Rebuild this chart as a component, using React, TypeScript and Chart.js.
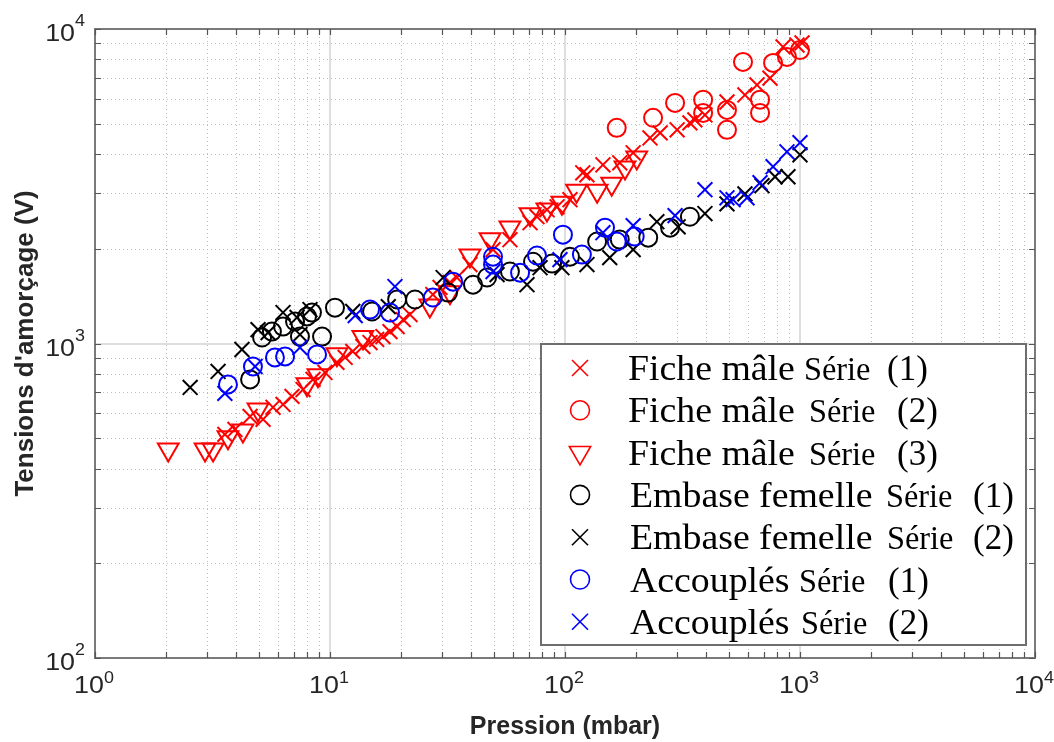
import React, { useEffect, useRef } from 'react';
import { Chart, registerables } from 'chart.js';

Chart.register(...registerables);

// ---------- axes ----------
const X_MIN = 1;
const X_MAX = 10000;
const Y_MIN = 100;
const Y_MAX = 10000;
const xDecades = [1, 10, 100, 1000, 10000];
const xTickExponents = ['0', '1', '2', '3', '4'];
const yDecades = [100, 1000, 10000];
const yTickExponents = ['2', '3', '4'];
const xTitle = 'Pression (mbar)';
const yTitle = "Tensions d'amorçage (V)";

// ---------- data ----------
// Fiche mâle Série (1)
const ficheMale1X = [3.57, 3.94, 4.57, 5.19, 5.72, 6.31, 6.89, 7.68, 8.47, 9.52, 10.7, 11.6, 12.5, 13.8, 14.8, 15.8, 16.8, 18.0, 19.3, 20.5, 21.9, 27.4, 29.4, 32.4, 34.7, 39.4, 49.4, 58.3, 71, 76, 83.8, 92.5, 105, 119, 124, 145, 171, 195, 230, 254, 300, 340, 357, 394, 489, 583, 656, 745, 847, 971, 1020];
const ficheMale1Y = [514, 533, 586, 574, 627, 640, 679, 714, 769, 809, 871, 903, 944, 978, 1007, 1030, 1052, 1091, 1132, 1191, 1236, 1431, 1507, 1563, 1621, 1782, 1988, 2138, 2421, 2530, 2663, 2720, 2865, 3490, 3440, 3700, 3755, 4040, 4505, 4675, 4780, 5030, 5140, 5330, 5860, 6170, 6640, 6980, 8770, 8890, 9030];
// Fiche mâle Série (2)
const ficheMale2X = [166, 237, 294, 387, 387, 489, 489, 572, 676, 676, 768, 880, 1000];
const ficheMale2Y = [4850, 5220, 5820, 5960, 5410, 5530, 4780, 7860, 5960, 5410, 7800, 8150, 8570];
// Fiche mâle Série (3)
const ficheMale3X = [2.05, 2.94, 3.18, 3.68, 4.26, 4.94, 7.98, 8.89, 10.7, 13.8, 26.6, 32.4, 39.4, 48, 58.3, 71, 83.8, 97, 112, 137, 158, 180, 202];
const ficheMale3Y = [460, 460, 460, 503, 529, 617, 742, 792, 925, 1048, 1320, 1455, 1905, 2145, 2340, 2575, 2665, 2805, 3060, 3060, 3220, 3630, 3900];
// Embase femelle Série (1)
const embase1X = [4.57, 5.14, 5.66, 6.31, 7.1, 7.98, 8.38, 7.45, 9.25, 10.5, 15.1, 19.3, 23, 31.8, 40.6, 46.6, 58.3, 73.1, 88.1, 105, 137, 171, 226, 280, 340];
const embase1Y = [769, 1045, 1091, 1132, 1175, 1219, 1254, 1052, 1052, 1300, 1264, 1380, 1380, 1452, 1538, 1621, 1694, 1820, 1795, 1888, 2110, 2140, 2170, 2335, 2530];
// Embase femelle Série (2)
const embase2X = [2.54, 3.34, 4.22, 4.94, 5.45, 6.31, 7.24, 8.22, 7.45, 12.5, 17.7, 30.3, 51.4, 68.9, 78.3, 97, 124, 155, 195, 246, 303, 394, 489, 583, 689, 783, 889, 1000];
const embase2Y = [725, 815, 957, 1107, 1083, 1254, 1210, 1282, 1068, 1264, 1310, 1621, 1656, 1538, 1742, 1742, 1782, 1875, 1988, 2440, 2350, 2590, 2780, 2990, 3175, 3390, 3390, 3980];
// Accouplés Série (1)
const accouples1X = [3.68, 4.70, 5.83, 6.44, 8.81, 14.8, 18.0, 27.4, 33.4, 49.4, 49.4, 64.4, 76, 98, 118, 148, 166, 198];
const accouples1Y = [741, 845, 903, 910, 923, 1282, 1254, 1400, 1573, 1888, 1782, 1680, 1905, 2218, 1917, 2335, 2110, 2188];
// Accouplés Série (2)
const accouples2X = [3.57, 4.80, 7.45, 12.8, 18.9, 49.4, 95.2, 145, 195, 294, 394, 489, 519, 595, 676, 768, 880, 1000];
const accouples2Y = [694, 845, 971, 1227, 1517, 1694, 1848, 2250, 2370, 2550, 3083, 2905, 2865, 2905, 3245, 3650, 4070, 4350];

const seriesName = ['Fiche mâle', 'Fiche mâle', 'Fiche mâle', 'Embase femelle', 'Embase femelle', 'Accouplés', 'Accouplés'];
const seriesWord = ['Série', 'Série', 'Série', 'Série', 'Série', 'Série', 'Série'];
const seriesNum = ['(1)', '(2)', '(3)', '(1)', '(2)', '(1)', '(2)'];
const seriesX = [ficheMale1X, ficheMale2X, ficheMale3X, embase1X, embase2X, accouples1X, accouples2X];
const seriesY = [ficheMale1Y, ficheMale2Y, ficheMale3Y, embase1Y, embase2Y, accouples1Y, accouples2Y];

// ---------- styles ----------
const seriesColor = ['#ff0000', '#ff0000', '#ff0000', '#000000', '#000000', '#0000ff', '#0000ff'];
const seriesMarker = ['crossRot', 'circle', 'triangle', 'circle', 'crossRot', 'circle', 'crossRot'];
const markerRadius: Record<string, number> = { crossRot: 10.5, circle: 9, triangle: 12 };
const legendMarkerSize: Record<string, number> = { crossRot: 8, circle: 9.5, triangle: 12.3 };

const W = 1054;
const H = 742;
const AREA = { left: 95, right: 1035, top: 29, bottom: 658 };
const LEGEND = { left: 541, top: 344, right: 1026, bottom: 645, rowY0: 368, rowStep: 42.3, markerX: 580 };
const legendNameX = [628, 628, 628, 630, 630, 630, 630];
const legendWordX = [804, 809, 809, 886, 887, 799, 801];
const legendNumX = [887, 897, 897, 973, 973, 888, 888];

const TEXT = '#262626';
const SANS = "'Liberation Sans', Arial, Helvetica, sans-serif";
const SERIF = "'Liberation Serif', 'Times New Roman', serif";

function drawMarker(ctx: CanvasRenderingContext2D, style: string, x: number, y: number, s: number) {
  ctx.beginPath();
  if (style === 'circle') {
    ctx.arc(x, y, s, 0, Math.PI * 2);
  } else if (style === 'crossRot') {
    ctx.moveTo(x - s, y - s);
    ctx.lineTo(x + s, y + s);
    ctx.moveTo(x + s, y - s);
    ctx.lineTo(x - s, y + s);
  } else {
    ctx.moveTo(x, y + s);
    ctx.lineTo(x - 0.866 * s, y - 0.5 * s);
    ctx.lineTo(x + 0.866 * s, y - 0.5 * s);
    ctx.closePath();
  }
  ctx.stroke();
}

function stretchedText(ctx: CanvasRenderingContext2D, text: string, x: number, y: number, sx: number) {
  ctx.save();
  ctx.translate(x, y);
  ctx.scale(sx, 1);
  ctx.fillText(text, 0, 0);
  ctx.restore();
}

const matlabPlugin = {
  id: 'matlabAxes',
  beforeDatasetsDraw(chart: any) {
    const { ctx, chartArea: a, scales } = chart;
    const xs = scales.x;
    const ys = scales.y;
    const xMinor: number[] = [];
    const yMinor: number[] = [];
    for (let d = X_MIN; d < X_MAX; d *= 10) for (let k = 2; k <= 9; k++) xMinor.push(k * d);
    for (let d = Y_MIN; d < Y_MAX; d *= 10) for (let k = 2; k <= 9; k++) yMinor.push(k * d);
    ctx.save();
    ctx.fillStyle = '#ffffff';
    ctx.fillRect(a.left, a.top, a.right - a.left, a.bottom - a.top);
    // minor dotted grid
    ctx.strokeStyle = '#bdbdbd';
    ctx.lineWidth = 1;
    ctx.setLineDash([1, 3]);
    ctx.beginPath();
    xMinor.forEach((v) => {
      const p = Math.round(xs.getPixelForValue(v)) + 0.5;
      ctx.moveTo(p, a.top);
      ctx.lineTo(p, a.bottom);
    });
    yMinor.forEach((v) => {
      const p = Math.round(ys.getPixelForValue(v)) + 0.5;
      ctx.moveTo(a.left, p);
      ctx.lineTo(a.right, p);
    });
    ctx.stroke();
    // major solid grid
    ctx.setLineDash([]);
    ctx.strokeStyle = '#dedede';
    ctx.lineWidth = 2;
    ctx.beginPath();
    xDecades.slice(1, -1).forEach((v) => {
      const p = Math.round(xs.getPixelForValue(v));
      ctx.moveTo(p, a.top);
      ctx.lineTo(p, a.bottom);
    });
    yDecades.slice(1, -1).forEach((v) => {
      const p = Math.round(ys.getPixelForValue(v));
      ctx.moveTo(a.left, p);
      ctx.lineTo(a.right, p);
    });
    ctx.stroke();
    // box
    ctx.strokeStyle = '#7a7a7a';
    ctx.lineWidth = 2;
    ctx.strokeRect(a.left, a.top, a.right - a.left, a.bottom - a.top);
    // inward ticks
    ctx.strokeStyle = '#555555';
    ctx.lineWidth = 1.2;
    ctx.beginPath();
    const tl = 6;
    [...xMinor, ...xDecades].forEach((v) => {
      const p = Math.round(xs.getPixelForValue(v)) + 0.5;
      ctx.moveTo(p, a.top);
      ctx.lineTo(p, a.top + tl);
      ctx.moveTo(p, a.bottom);
      ctx.lineTo(p, a.bottom - tl);
    });
    [...yMinor, ...yDecades].forEach((v) => {
      const p = Math.round(ys.getPixelForValue(v)) + 0.5;
      ctx.moveTo(a.left, p);
      ctx.lineTo(a.left + tl, p);
      ctx.moveTo(a.right, p);
      ctx.lineTo(a.right - tl, p);
    });
    ctx.stroke();
    ctx.restore();
  },
  afterDraw(chart: any) {
    const { ctx, chartArea: a, scales } = chart;
    const xs = scales.x;
    const ys = scales.y;
    ctx.save();
    ctx.fillStyle = TEXT;
    ctx.textBaseline = 'alphabetic';
    ctx.textAlign = 'left';
    const baseFont = `24px ${SANS}`;
    const expFont = `16px ${SANS}`;
    const sx = 1.12;
    // y tick labels
    yDecades.forEach((v, i) => {
      const p = ys.getPixelForValue(v);
      ctx.font = expFont;
      const we = ctx.measureText(yTickExponents[i]).width * sx;
      ctx.font = baseFont;
      const wb = ctx.measureText('10').width * sx;
      const right = a.left - 10;
      stretchedText(ctx, '10', right - we - wb, p + 12, sx);
      ctx.font = expFont;
      stretchedText(ctx, yTickExponents[i], right - we, p - 3, sx);
    });
    // x tick labels
    xDecades.forEach((v, i) => {
      const p = xs.getPixelForValue(v);
      ctx.font = expFont;
      const we = ctx.measureText(xTickExponents[i]).width * sx;
      ctx.font = baseFont;
      const wb = ctx.measureText('10').width * sx;
      const start = p - (wb + we) / 2 - 1;
      stretchedText(ctx, '10', start, a.bottom + 35, sx);
      ctx.font = expFont;
      stretchedText(ctx, xTickExponents[i], start + wb, a.bottom + 25, sx);
    });
    // titles
    ctx.font = `bold 25px ${SANS}`;
    ctx.textAlign = 'center';
    ctx.fillText(xTitle, (a.left + a.right) / 2, a.bottom + 76);
    ctx.save();
    ctx.translate(33, (a.top + a.bottom) / 2);
    ctx.rotate(-Math.PI / 2);
    ctx.font = `bold 26px ${SANS}`;
    ctx.fillText(yTitle, 0, 0);
    ctx.restore();

    // legend
    const L = LEGEND;
    ctx.fillStyle = '#ffffff';
    ctx.fillRect(L.left, L.top, L.right - L.left, L.bottom - L.top);
    ctx.strokeStyle = '#6e6e6e';
    ctx.lineWidth = 2;
    ctx.strokeRect(L.left, L.top, L.right - L.left, L.bottom - L.top);
    ctx.textAlign = 'left';
    seriesName.forEach((name, i) => {
      const y = L.rowY0 + i * L.rowStep;
      ctx.strokeStyle = seriesColor[i];
      ctx.lineWidth = 1.6;
      drawMarker(ctx, seriesMarker[i], L.markerX, y, legendMarkerSize[seriesMarker[i]]);
      ctx.fillStyle = '#000000';
      ctx.font = `35px ${SERIF}`;
      stretchedText(ctx, name, legendNameX[i], y + 12, 1.08);
      ctx.font = `33px ${SERIF}`;
      stretchedText(ctx, seriesWord[i], legendWordX[i], y + 12, 0.98);
      ctx.font = `35px ${SERIF}`;
      stretchedText(ctx, seriesNum[i], legendNumX[i], y + 12, 1.0);
    });
    ctx.restore();
  },
};

export default function App() {
  const ref = useRef<HTMLCanvasElement>(null);
  useEffect(() => {
    document.body.style.margin = '0';
    const canvas = ref.current;
    if (!canvas) return;
    const datasets = seriesX.map((xsArr, i) => ({
      label: `${seriesName[i]} ${seriesWord[i]} ${seriesNum[i]}`,
      data: xsArr.map((x, j) => ({ x, y: seriesY[i][j] })),
      showLine: false,
      pointStyle: seriesMarker[i] as any,
      pointRotation: seriesMarker[i] === 'triangle' ? 180 : 0,
      pointRadius: markerRadius[seriesMarker[i]],
      pointHoverRadius: markerRadius[seriesMarker[i]],
      borderColor: seriesColor[i],
      backgroundColor: 'rgba(0,0,0,0)',
      pointBorderWidth: 2,
      order: seriesX.length - i,
    }));
    const chart = new Chart(canvas, {
      type: 'scatter',
      data: { datasets },
      options: {
        animation: false,
        responsive: false,
        devicePixelRatio: 1,
        events: [],
        layout: { padding: { left: 0, top: AREA.top, right: W - AREA.right, bottom: 0 } },
        plugins: { legend: { display: false }, tooltip: { enabled: false } },
        scales: {
          x: {
            type: 'logarithmic',
            min: X_MIN,
            max: X_MAX,
            ticks: { display: false },
            grid: { display: false },
            border: { display: false },
            afterFit: (s: any) => { s.height = H - AREA.bottom; },
          },
          y: {
            type: 'logarithmic',
            min: Y_MIN,
            max: Y_MAX,
            ticks: { display: false },
            grid: { display: false },
            border: { display: false },
            afterFit: (s: any) => { s.width = AREA.left; },
          },
        },
      },
      plugins: [matlabPlugin],
    });
    return () => chart.destroy();
  }, []);
  return (
    <div style={{ position: 'absolute', left: 0, top: 0, width: W, height: H, background: '#ffffff' }}>
      <canvas ref={ref} width={W} height={H} style={{ display: 'block' }} />
    </div>
  );
}
